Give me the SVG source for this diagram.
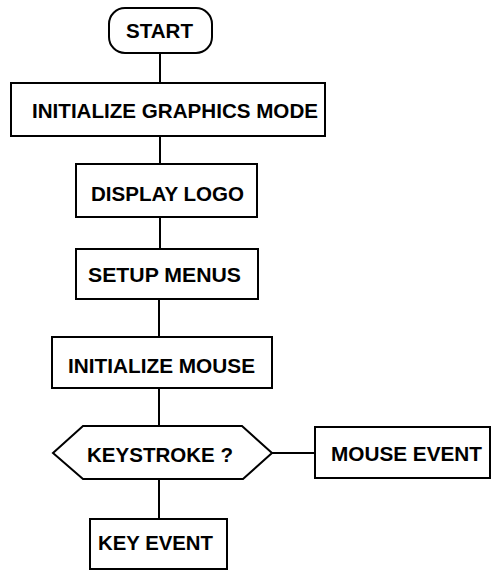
<svg xmlns="http://www.w3.org/2000/svg" width="491" height="570" viewBox="0 0 491 570">
<style>
.box{fill:#fff;stroke:#000;stroke-width:2}
.ln{stroke:#000;stroke-width:2;fill:none}
text{font-family:"Liberation Sans",Arial,sans-serif;font-size:21px;font-weight:bold;fill:#000}
</style>
<rect width="491" height="570" fill="#fff"/>
<g id="connectors">
<line class="ln" x1="160" y1="53" x2="160" y2="83"/>
<line class="ln" x1="160" y1="136" x2="160" y2="164"/>
<line class="ln" x1="160" y1="217" x2="160" y2="249"/>
<line class="ln" x1="159" y1="299" x2="159" y2="337"/>
<line class="ln" x1="159" y1="388" x2="159" y2="426"/>
<line class="ln" x1="272" y1="453" x2="315" y2="453"/>
<line class="ln" x1="159" y1="479" x2="159" y2="519"/>
</g>
<g id="start">
<rect class="box" x="109" y="8" width="103" height="45" rx="16"/>
<text x="126" y="37.5" textLength="67" lengthAdjust="spacingAndGlyphs">START</text>
</g>
<g id="init-graphics">
<rect class="box" x="11" y="83" width="314" height="53"/>
<text x="32" y="117.5" textLength="286" lengthAdjust="spacingAndGlyphs">INITIALIZE GRAPHICS MODE</text>
</g>
<g id="display-logo">
<rect class="box" x="76" y="164" width="181" height="53"/>
<text x="91" y="200.5" textLength="153" lengthAdjust="spacingAndGlyphs">DISPLAY LOGO</text>
</g>
<g id="setup-menus">
<rect class="box" x="76" y="249" width="182" height="50"/>
<text x="88" y="282" textLength="153" lengthAdjust="spacingAndGlyphs">SETUP MENUS</text>
</g>
<g id="init-mouse">
<rect class="box" x="52" y="337" width="220" height="51"/>
<text x="68" y="373" textLength="187" lengthAdjust="spacingAndGlyphs">INITIALIZE MOUSE</text>
</g>
<g id="keystroke">
<polygon class="box" points="53,453 83,426 242,426 272,453 243,479 83,479"/>
<text x="87" y="462" textLength="146" lengthAdjust="spacingAndGlyphs">KEYSTROKE ?</text>
</g>
<g id="mouse-event">
<rect class="box" x="315" y="427" width="175" height="51"/>
<text x="331" y="461" textLength="151" lengthAdjust="spacingAndGlyphs">MOUSE EVENT</text>
</g>
<g id="key-event">
<rect class="box" x="90" y="519" width="137" height="50"/>
<text x="98" y="550" textLength="115" lengthAdjust="spacingAndGlyphs">KEY EVENT</text>
</g>
</svg>
